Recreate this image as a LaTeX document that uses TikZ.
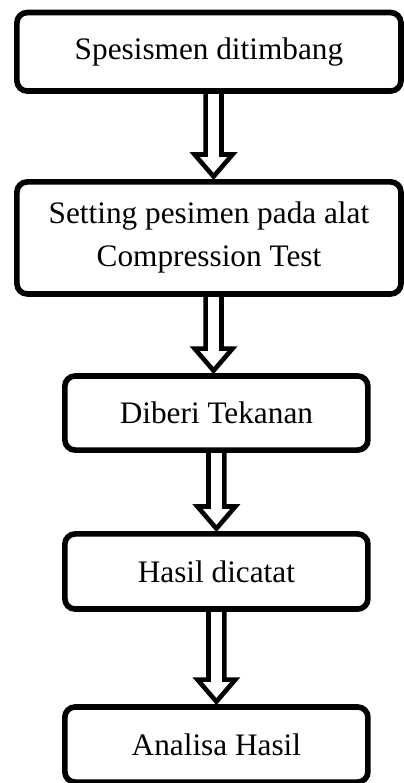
\documentclass[tikz,border=0pt]{standalone}
\usepackage{fontspec}
\setmainfont{Liberation Serif}
\usepackage{tikz}
\usetikzlibrary{calc}

\begin{document}
\begin{tikzpicture}[
        box/.style={rectangle, rounded corners=4pt, draw=black, line width=2.2pt, align=center, inner sep=0pt, font=\fontsize{12.2}{16.8}\selectfont},
        wide/.style={box, minimum width=149.8pt},
        narrow/.style={box, minimum width=118.2pt, minimum height=29.3pt},
        blockarrow/.style={draw=black, fill=white, line width=1.8pt, line join=miter,
            to path={let \p1=(\tikztostart), \p2=(\tikztotarget) in
                (\x1-3.1pt,\y1+0.9pt) -- (\x1-3.1pt,\y2+9.6pt) -- (\x1-7.4pt,\y2+9.6pt) -- (\x1,\y2+1pt)
                -- (\x1+7.4pt,\y2+9.6pt) -- (\x1+3.1pt,\y2+9.6pt) -- (\x1+3.1pt,\y1+0.9pt) -- cycle}}
    ]
    \useasboundingbox (0,0) rectangle (157.2pt,-305.4pt);

    % Wide boxes (top)
    \node[wide, minimum height=30.6pt] (timbang) at (81.5pt,-20.2pt) {Spesismen ditimbang};
    \node[wide, minimum height=43.7pt] (setting) at (81.5pt,-92.8pt) {Setting pesimen pada alat\\Compression Test};

    % Narrow boxes (bottom)
    \node[narrow, minimum height=28.9pt] (tekanan) at (84.4pt,-161.1pt) {Diberi Tekanan};
    \node[narrow] (catat) at (84.4pt,-222.9pt) {Hasil dicatat};
    \node[narrow] (analisa) at (84.4pt,-290.4pt) {Analisa Hasil};

    % Arrows
    \draw[blockarrow] ([xshift=1.8pt]timbang.south) to ([xshift=1.8pt]setting.north);
    \draw[blockarrow] ([xshift=1.8pt]setting.south) to (tekanan.north);
    \draw[blockarrow] (tekanan.south) to (catat.north);
    \draw[blockarrow] (catat.south) to (analisa.north);

\end{tikzpicture}
\end{document}
